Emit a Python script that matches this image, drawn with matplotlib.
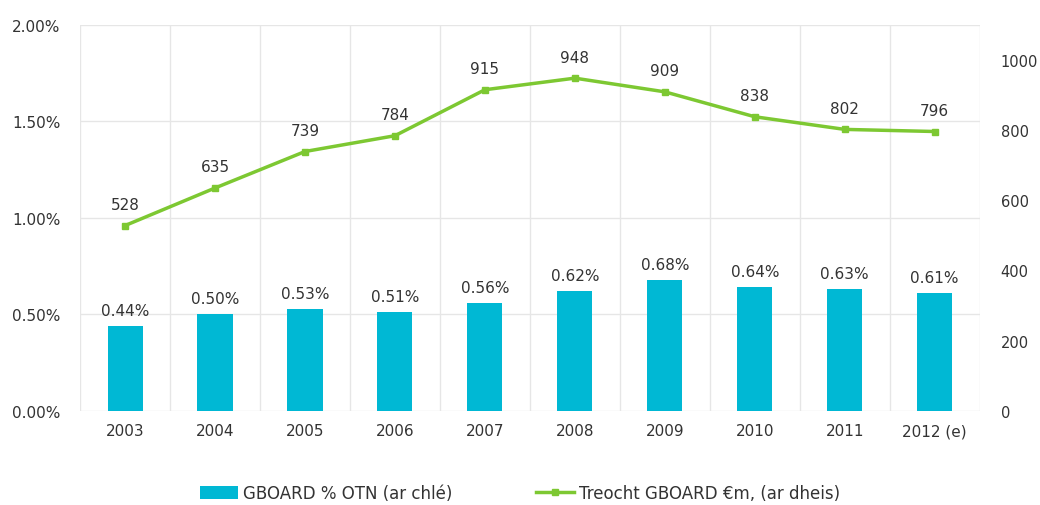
import matplotlib.pyplot as plt
from matplotlib.ticker import FuncFormatter

# data
years = ["2003", "2004", "2005", "2006", "2007", "2008", "2009", "2010", "2011", "2012 (e)"]
share_pct = [0.44, 0.50, 0.53, 0.51, 0.56, 0.62, 0.68, 0.64, 0.63, 0.61]
spend_m = [528, 635, 739, 784, 915, 948, 909, 838, 802, 796]

bar_color = "#00B8D4"
line_color = "#7DC832"
text_color = "#333333"
grid_color = "#E6E6E6"

plt.rcParams["font.family"] = ["DejaVu Sans"]

fig = plt.figure(figsize=(10.4, 5.06), dpi=100)
ax = fig.add_axes([0.077, 0.186, 0.865, 0.763])
ax2 = ax.twinx()

x = list(range(len(years)))

# bars (left axis)
ax.bar(x, share_pct, width=0.39, color=bar_color, zorder=2,
       label="GBOARD % OTN (ar chlé)")
for xi, v in zip(x, share_pct):
    ax.text(xi, v + 0.08, f"{v:.2f}%", ha="center", va="center",
            fontsize=11, color=text_color)

ax.set_ylim(0, 2.0)
ax.set_yticks([0, 0.5, 1.0, 1.5, 2.0])
ax.yaxis.set_major_formatter(FuncFormatter(lambda v, p: f"{v:.2f}%"))
ax.set_xlim(-0.5, len(years) - 0.5)
ax.set_xticks(x)
ax.set_xticklabels(years)

# grid: horizontal at ticks, vertical between categories
ax.grid(axis="y", color=grid_color, linewidth=1, zorder=0)
for b in range(len(years) + 1):
    ax.axvline(b - 0.5, color=grid_color, linewidth=1, zorder=0)

# line (right axis)
ax2.plot(x, spend_m, color=line_color, linewidth=2.5, marker="s",
         markersize=4, zorder=3, label="Treocht GBOARD €m, (ar dheis)")
for xi, v in zip(x, spend_m):
    ax2.text(xi, v + 60, f"{v}", ha="center", va="center",
             fontsize=11, color=text_color)
ax2.set_ylim(0, 1100)
ax2.set_yticks([0, 200, 400, 600, 800, 1000])

for a in (ax, ax2):
    for s in a.spines.values():
        s.set_visible(False)
    a.tick_params(length=0, labelsize=11, colors=text_color)
ax.tick_params(axis="x", pad=9)
ax.tick_params(axis="y", pad=14)
ax2.tick_params(axis="y", pad=15, labelsize=10.5)

h1, l1 = ax.get_legend_handles_labels()
h2, l2 = ax2.get_legend_handles_labels()
fig.legend(h1 + h2, l1 + l2, loc="lower center", bbox_to_anchor=(0.5, -0.024),
           ncol=2, frameon=False, fontsize=12, columnspacing=5,
           handlelength=2.3, handleheight=0.8, handletextpad=0.3,
           labelcolor=text_color)

fig.savefig("out.png", dpi=100)
